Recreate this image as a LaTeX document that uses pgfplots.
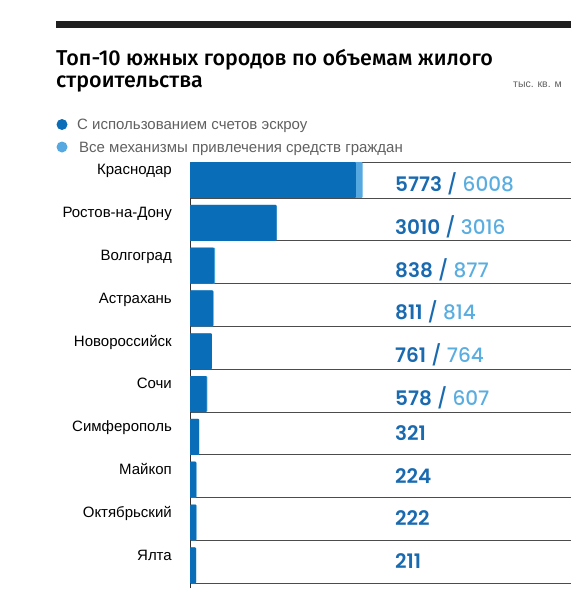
\documentclass[border=0pt]{standalone}
\usepackage{pgfplots}
\pgfplotsset{compat=1.18}
\usepackage{fontspec}
\setmainfont{Liberation Sans}
\newfontfamily\titlefont{Fira Sans Medium}
\newfontfamily\numfont{Poppins Medium}
\newfontfamily\numbold{Poppins SemiBold}
\definecolor{dark}{HTML}{0A6DB8}
\definecolor{light}{HTML}{55A9E0}
\definecolor{numdark}{HTML}{1A6AB0}
\definecolor{numlight}{HTML}{5AADE0}
\definecolor{txtgray}{HTML}{606060}
\newcommand{\city}{\fontsize{15bp}{17bp}\selectfont}
\newcommand{\vals}{\fontsize{20bp}{22bp}\selectfont}
\newcommand{\dv}[1]{{\numbold\color{numdark}#1}}
\newcommand{\lv}[1]{{\numfont\color{numlight}#1}}
\newcommand{\sep}{{\numfont\color{numdark}\ /\ }}
\begin{document}
\begin{tikzpicture}
\path[use as bounding box] (0,0) rectangle (587bp,-604bp);
\fill[black!88] (56bp,-20.5bp) rectangle (571bp,-27.5bp);
\node[anchor=base west, inner sep=0, font=\titlefont\fontsize{21.5bp}{22bp}\selectfont] at (56bp,-65.5bp) {Топ-10 южных городов по объемам жилого};
\node[anchor=base west, inner sep=0, font=\titlefont\fontsize{21.5bp}{22bp}\selectfont] at (56bp,-87bp) {строительства};
\node[anchor=base east, inner sep=0, text=txtgray, font=\fontsize{10.5bp}{12bp}\selectfont] at (562bp,-87bp) {тыс. кв. м};
\fill[dark] (62bp,-124.5bp) circle (5.5bp);
\fill[light] (62bp,-147bp) circle (5.5bp);
\node[anchor=base west, inner sep=0, text=txtgray, font=\fontsize{15bp}{17bp}\selectfont] at (77bp,-129.5bp) {С использованием счетов эскроу};
\node[anchor=base west, inner sep=0, text=txtgray, font=\fontsize{15bp}{17bp}\selectfont] at (79bp,-152bp) {Все механизмы привлечения средств граждан};
\begin{axis}[
  at={(190bp,-162bp)}, anchor=north west,
  scale only axis, width=381bp, height=426bp,
  xmin=0, xmax=13257, ymin=-0.34, ymax=9.61,
  y dir=reverse,
  axis x line=none, axis y line=left,
  axis line style={-, draw=black!80, line width=0.9bp},
  ytick={-0.34,0.5,1.5,2.5,3.5,4.5,5.5,6.5,7.5,8.5,9.5},
  yticklabels={}, major tick length=0,
  ymajorgrids, grid style={draw=black!70, line width=0.9bp},
  clip=false,
]
\addplot[xbar, bar width=0.84, bar shift=0.08, fill=light, draw=none, rounded corners=1bp] coordinates {
 (6008,0) (3016,1) (877,2) (814,3) (764,4) (607,5) (321,6) (224,7) (222,8) (211,9)};
\addplot[xbar, bar width=0.84, bar shift=0.08, fill=dark, draw=none, rounded corners=1bp] coordinates {
 (5773,0) (3010,1) (838,2) (811,3) (761,4) (578,5) (321,6) (224,7) (222,8) (211,9)};
\node[anchor=base east, font=\city, inner sep=0, xshift=-18bp] at (axis cs:0,-0.04) {Краснодар};
\node[anchor=base east, font=\city, inner sep=0, xshift=-18bp] at (axis cs:0,0.96) {Ростов-на-Дону};
\node[anchor=base east, font=\city, inner sep=0, xshift=-18bp] at (axis cs:0,1.96) {Волгоград};
\node[anchor=base east, font=\city, inner sep=0, xshift=-18bp] at (axis cs:0,2.96) {Астрахань};
\node[anchor=base east, font=\city, inner sep=0, xshift=-18bp] at (axis cs:0,3.96) {Новороссийск};
\node[anchor=base east, font=\city, inner sep=0, xshift=-18bp] at (axis cs:0,4.96) {Сочи};
\node[anchor=base east, font=\city, inner sep=0, xshift=-18bp] at (axis cs:0,5.96) {Симферополь};
\node[anchor=base east, font=\city, inner sep=0, xshift=-18bp] at (axis cs:0,6.96) {Майкоп};
\node[anchor=base east, font=\city, inner sep=0, xshift=-18bp] at (axis cs:0,7.96) {Октябрьский};
\node[anchor=base east, font=\city, inner sep=0, xshift=-18bp] at (axis cs:0,8.96) {Ялта};
\node[anchor=base west, font=\vals, inner sep=0, xshift=205bp] at (axis cs:0,0.35) {\dv{5773}\sep\lv{6008}};
\node[anchor=base west, font=\vals, inner sep=0, xshift=205bp] at (axis cs:0,1.35) {\dv{3010}\sep\lv{3016}};
\node[anchor=base west, font=\vals, inner sep=0, xshift=205bp] at (axis cs:0,2.35) {\dv{838}\sep\lv{877}};
\node[anchor=base west, font=\vals, inner sep=0, xshift=205bp] at (axis cs:0,3.35) {\dv{811}\sep\lv{814}};
\node[anchor=base west, font=\vals, inner sep=0, xshift=205bp] at (axis cs:0,4.35) {\dv{761}\sep\lv{764}};
\node[anchor=base west, font=\vals, inner sep=0, xshift=205bp] at (axis cs:0,5.35) {\dv{578}\sep\lv{607}};
\node[anchor=base west, font=\vals, inner sep=0, xshift=205bp] at (axis cs:0,6.16) {\dv{321}};
\node[anchor=base west, font=\vals, inner sep=0, xshift=205bp] at (axis cs:0,7.16) {\dv{224}};
\node[anchor=base west, font=\vals, inner sep=0, xshift=205bp] at (axis cs:0,8.16) {\dv{222}};
\node[anchor=base west, font=\vals, inner sep=0, xshift=205bp] at (axis cs:0,9.16) {\dv{211}};
\end{axis}
\end{tikzpicture}
\end{document}
